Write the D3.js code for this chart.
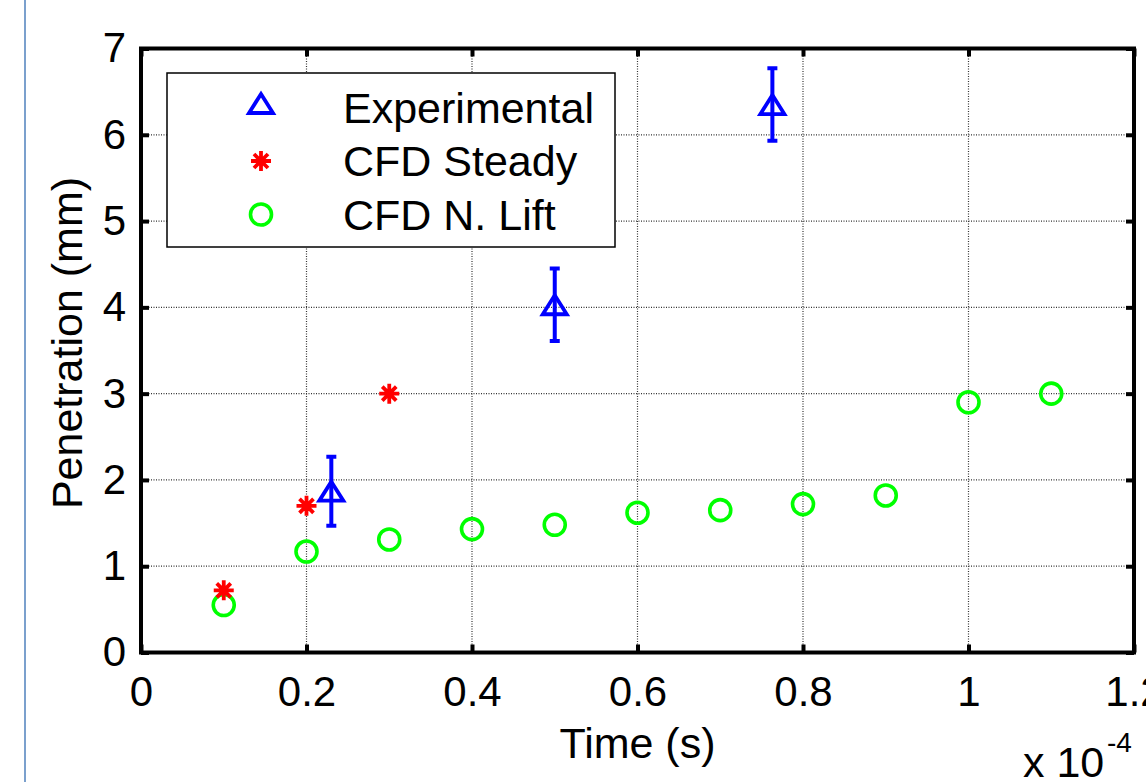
<!DOCTYPE html>
<html>
<head>
<meta charset="utf-8">
<script src="https://cdn.jsdelivr.net/npm/d3@7"></script>
<style>
  html, body { margin: 0; padding: 0; background: #fff; }
  svg { display: block; font-family: "Liberation Sans", Arial, sans-serif; }
</style>
</head>
<body>
<div id="chart"></div>
<script>
// time in units of 1e-4 s, penetration in mm
var expTime = [0.23, 0.5, 0.763];
var expPen = [1.87, 4.03, 6.35];
var expErr = [0.40, 0.42, 0.42];

var steadyTime = [0.1, 0.2, 0.3];
var steadyPen = [0.72, 1.70, 3.0];

var liftTime = [0.1, 0.2, 0.3, 0.4, 0.5, 0.6, 0.7, 0.8, 0.9, 1.0, 1.1];
var liftPen = [0.55, 1.17, 1.31, 1.43, 1.48, 1.62, 1.65, 1.72, 1.82, 2.90, 3.00];

var xTicks = [0, 0.2, 0.4, 0.6, 0.8, 1, 1.2];
var yTicks = [0, 1, 2, 3, 4, 5, 6, 7];

var legendNames = ["Experimental", "CFD Steady", "CFD N. Lift"];

var width = 1146,
  height = 782;

// plot box edges (note: "top" is taken by window.top)
var plotLeft = 141, plotRight = 1134, plotTop = 48.5, plotBottom = 652.5;

var x = d3.scaleLinear().domain([0, 1.2]).range([plotLeft, plotRight]);
var y = d3.scaleLinear().domain([0, 7]).range([plotBottom, plotTop]);

var svg = d3.select("#chart")
  .append("svg")
  .attr("width", width)
  .attr("height", height);

// thin frame line at the left edge of the figure
svg.append("line")
  .attr("x1", 25).attr("x2", 25)
  .attr("y1", 0).attr("y2", height)
  .attr("stroke", "#4f81bd")
  .attr("stroke-width", 1.5);

// dotted grid
var grid = svg.append("g")
  .attr("stroke", "#333")
  .attr("stroke-width", 1.2)
  .attr("stroke-dasharray", "1,1.5");

grid.selectAll(".gx")
  .data(xTicks.slice(1, -1))
  .enter().append("line")
  .attr("x1", function(d) { return x(d); })
  .attr("x2", function(d) { return x(d); })
  .attr("y1", plotTop).attr("y2", plotBottom);

grid.selectAll(".gy")
  .data(yTicks.slice(1, -1))
  .enter().append("line")
  .attr("y1", function(d) { return y(d); })
  .attr("y2", function(d) { return y(d); })
  .attr("x1", plotLeft).attr("x2", plotRight);

// axes, ticks pointing in
function styleAxis(g) {
  g.select(".domain").remove();
  g.selectAll(".tick line").attr("stroke", "#000").attr("stroke-width", 4);
  g.selectAll(".tick text")
    .attr("fill", "#000")
    .style("font-size", "42px")
    .style("font-family", "'Liberation Sans', Arial, sans-serif");
}

var fmt = function(d) { return String(d); };

svg.append("g")
  .attr("transform", "translate(0," + plotBottom + ")")
  .call(d3.axisBottom(x).tickValues(xTicks).tickFormat(fmt).tickSizeInner(-8).tickSizeOuter(0).tickPadding(24))
  .call(styleAxis);

svg.append("g")
  .attr("transform", "translate(0," + plotTop + ")")
  .call(d3.axisTop(x).tickValues(xTicks).tickFormat("").tickSizeInner(-8).tickSizeOuter(0))
  .call(styleAxis);

svg.append("g")
  .attr("transform", "translate(" + plotLeft + ",0)")
  .call(d3.axisLeft(y).tickValues(yTicks).tickFormat(fmt).tickSizeInner(-8).tickSizeOuter(0).tickPadding(15))
  .call(styleAxis);

svg.append("g")
  .attr("transform", "translate(" + plotRight + ",0)")
  .call(d3.axisRight(y).tickValues(yTicks).tickFormat("").tickSizeInner(-8).tickSizeOuter(0))
  .call(styleAxis);

// axes box
svg.append("rect")
  .attr("x", plotLeft).attr("y", plotTop)
  .attr("width", plotRight - plotLeft).attr("height", plotBottom - plotTop)
  .attr("fill", "none")
  .attr("stroke", "#000")
  .attr("stroke-width", 4);

// marker shapes
function triangle(g, color) {
  g.append("path")
    .attr("d", "M0,-9.5L12,9.5L-12,9.5Z")
    .attr("fill", "none")
    .attr("stroke", color)
    .attr("stroke-width", 3.8)
    .attr("stroke-linejoin", "miter");
}

function star(g, color) {
  g.append("path")
    .attr("d", "M-10,0H10M0,-10V10M-7,-7L7,7M-7,7L7,-7")
    .attr("stroke", color)
    .attr("stroke-width", 3.8);
}

function circle(g, color) {
  g.append("circle")
    .attr("r", 10.5)
    .attr("fill", "none")
    .attr("stroke", color)
    .attr("stroke-width", 3.6);
}

// legend
var legend = svg.append("g");
legend.append("rect")
  .attr("x", 167).attr("y", 73)
  .attr("width", 448).attr("height", 174)
  .attr("fill", "#fff")
  .attr("stroke", "#000")
  .attr("stroke-width", 1.5);

var legendMarkers = [triangle, star, circle];
var legendColors = ["#0000ff", "#ff0000", "#00ff00"];

legendNames.forEach(function(name, i) {
  var cy = 107.5 + i * 53.5;
  var m = legend.append("g")
    .attr("transform", "translate(261," + (i === 0 ? cy - 4 : cy) + ")");
  legendMarkers[i](m, legendColors[i]);
  legend.append("text")
    .attr("x", 343)
    .attr("y", cy + 15)
    .style("font-size", "43px")
    .text(name);
});

// CFD N. Lift
var liftG = svg.append("g");
liftTime.forEach(function(t, i) {
  var g = liftG.append("g").attr("transform", "translate(" + x(t) + "," + y(liftPen[i]) + ")");
  circle(g, "#00ff00");
});

// CFD Steady
var steadyG = svg.append("g");
steadyTime.forEach(function(t, i) {
  var g = steadyG.append("g").attr("transform", "translate(" + x(t) + "," + y(steadyPen[i]) + ")");
  star(g, "#ff0000");
});

// Experimental with error bars
var expG = svg.append("g");
expTime.forEach(function(t, i) {
  var cx = x(t),
    y1 = y(expPen[i] + expErr[i]),
    y2 = y(expPen[i] - expErr[i]);
  expG.append("path")
    .attr("d", "M" + cx + "," + y1 + "V" + y2 +
      "M" + (cx - 5) + "," + y1 + "H" + (cx + 5) +
      "M" + (cx - 5) + "," + y2 + "H" + (cx + 5))
    .attr("stroke", "#0000ff")
    .attr("stroke-width", 4)
    .attr("fill", "none");
  var g = expG.append("g").attr("transform", "translate(" + cx + "," + y(expPen[i]) + ")");
  triangle(g, "#0000ff");
});

// axis labels
svg.append("text")
  .attr("x", (plotLeft + plotRight) / 2)
  .attr("y", 758)
  .attr("text-anchor", "middle")
  .style("font-size", "43px")
  .text("Time (s)");

svg.append("text")
  .attr("transform", "translate(82,343) rotate(-90)")
  .attr("text-anchor", "middle")
  .style("font-size", "43px")
  .text("Penetration (mm)");

// exponent
var expo = svg.append("text")
  .attr("x", 1023)
  .attr("y", 777)
  .style("font-size", "43px");
expo.append("tspan").text("x 10");
expo.append("tspan")
  .attr("x", 1107)
  .attr("y", 752)
  .style("font-size", "28px")
  .text("-4");
</script>
</body>
</html>
